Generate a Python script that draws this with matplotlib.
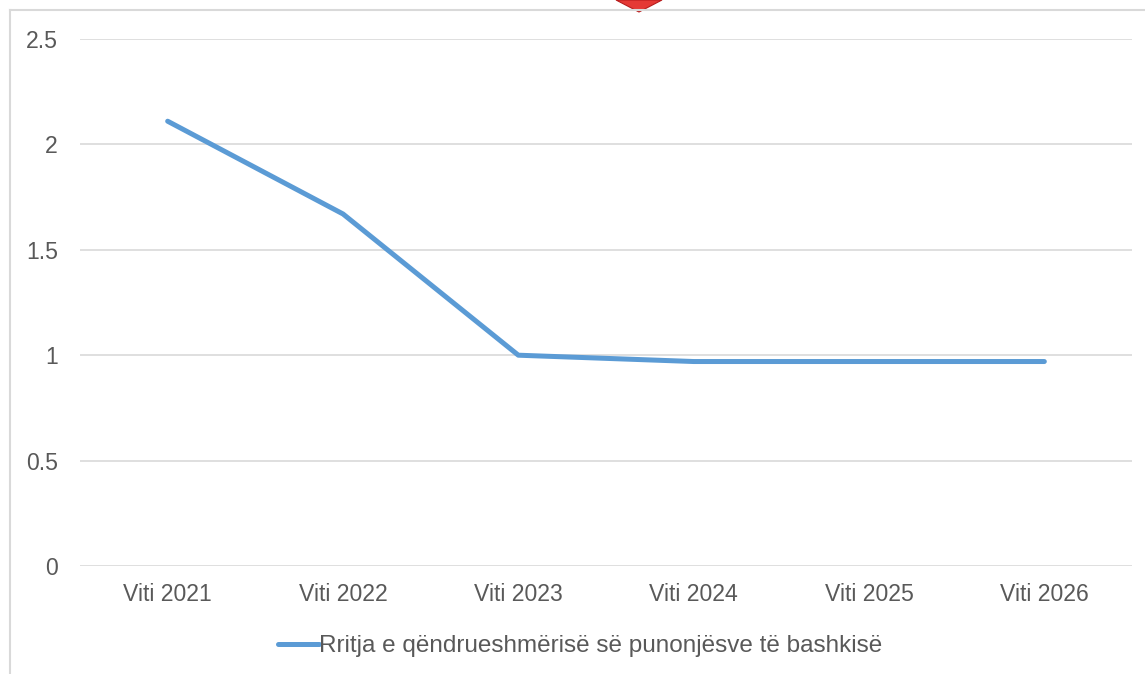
import matplotlib.pyplot as plt
from matplotlib.patches import Polygon
from matplotlib.lines import Line2D

plt.rcParams['font.family'] = ['Liberation Sans', 'DejaVu Sans']

vitet = ['Viti 2021', 'Viti 2022', 'Viti 2023', 'Viti 2024', 'Viti 2025', 'Viti 2026']
vlerat = [2.11, 1.67, 1.0, 0.97, 0.97, 0.97]
seria = 'Rritja e qëndrueshmërisë së punonjësve të bashkisë'

W, H = 1145, 674
fig = plt.figure(figsize=(W / 100, H / 100), dpi=100)
ax = fig.add_axes([80 / W, 1 - 566 / H, (1132 - 80) / W, (566 - 39) / H])

x = range(len(vitet))
ax.plot(x, vlerat, color='#5B9BD5', linewidth=3.6, solid_capstyle='round',
        solid_joinstyle='round', label=seria, zorder=3)

ax.set_xlim(-0.5, len(vitet) - 0.5)
ax.set_ylim(0, 2.5)
ax.set_yticks([0, 0.5, 1, 1.5, 2, 2.5])
ax.set_yticklabels(['0', '0.5', '1', '1.5', '2', '2.5'])
ax.set_xticks(list(x))
ax.set_xticklabels(vitet)
ax.tick_params(axis='both', length=0, labelsize=16.6, colors='#595959')
ax.tick_params(axis='y', pad=16)
ax.tick_params(axis='x', pad=12)
ax.grid(axis='y', color='#D9D9D9', linewidth=1.2)
ax.set_axisbelow(True)
for s in ax.spines.values():
    s.set_visible(False)

# chart frame (left and top edges)
fig.add_artist(Line2D([9.5 / W, 9.5 / W], [0, 1 - 9.5 / H], transform=fig.transFigure,
                      color='#D9D9D9', linewidth=1.5))
fig.add_artist(Line2D([9.5 / W, 1], [1 - 9.5 / H, 1 - 9.5 / H], transform=fig.transFigure,
                      color='#D9D9D9', linewidth=1.5))

# red marker cut off at the top edge
fig.add_artist(Polygon([(616 / W, 1.0), (639 / W, 1 - 12 / H), (662 / W, 1.0)], closed=True,
                       transform=fig.transFigure, facecolor='#E53935', edgecolor='#B71C1C',
                       linewidth=0.8))

leg = fig.legend(loc='center', bbox_to_anchor=(580 / W, 1 - 646 / H), frameon=False,
                 fontsize=17.5, handlelength=1.7, handletextpad=0.0)
for t in leg.get_texts():
    t.set_color('#595959')

fig.savefig('out.png', dpi=100)
